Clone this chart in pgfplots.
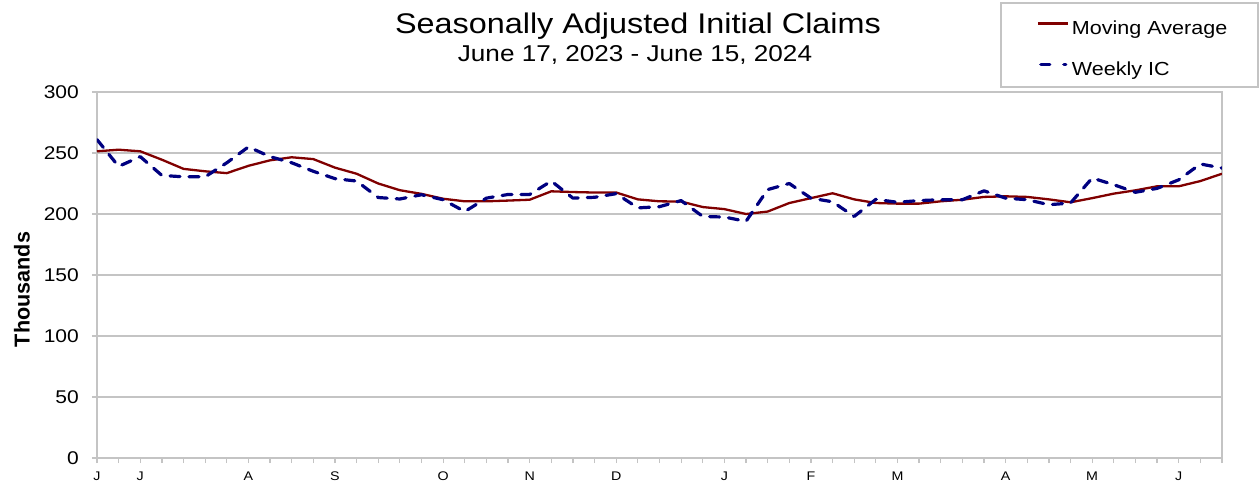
\documentclass[border=0pt]{standalone}
\usepackage{fontspec}
\setmainfont{Liberation Sans}[FakeStretch=1.14]
\newfontfamily\plainsans{Liberation Sans}
\usepackage{pgfplots}
\pgfplotsset{compat=1.18}
\definecolor{maline}{HTML}{800000}
\definecolor{icline}{HTML}{000080}
\definecolor{gridgray}{HTML}{C4C4C4}
\pgfplotsset{
    ic legend/.style={legend image code/.code={\path (0pt,0pt);
        \draw[##1, dash pattern=on 9pt off 14pt] (3pt,6pt) -- (28pt,6pt);}},
}

% week index 0 = June 17, 2023 ... 52 = June 15, 2024 (values in thousands)
\pgfplotstableread{
i ma ic
0 251.4 261
1 252.7 239
2 251.4 247
3 244.5 231.6
4 237 230.5
5 235 230.5
6 233.5 242
7 239.5 255
8 244 247
9 246.5 242
10 245 235
11 238 229
12 233 227
13 225 213.5
14 219.5 212.3
15 216.5 215.8
16 212.5 211.7
17 210.4 202
18 210.4 213
19 211 216
20 211.7 216
21 218.6 227
22 218 213
23 217.6 213.7
24 217.6 216.7
25 212 205
26 210.4 206
27 210.2 211
28 205.7 198
29 204 197.5
30 200 194
31 202 220
32 209 225
33 213 213
34 217 210
35 212 198
36 209 212
37 208.5 209.6
38 208.5 211
39 210.4 211.7
40 211.7 211.7
41 214 219
42 214.5 213
43 214 211.7
44 212 207.6
45 209.6 209
46 213 229.5
47 216.7 224
48 219.4 217.8
49 222.7 221
50 222.7 228
51 227 241
52 233 237.7
}\claims

\begin{document}
\begin{tikzpicture}
\path[use as bounding box] (-97pt,-25pt) rectangle (1163pt,458pt);
\begin{axis}[
    scale only axis,
    width=1125pt, height=366pt,
    xmin=0, xmax=52, ymin=0, ymax=300,
    xtick={0,...,52},
    xticklabels={J,,J,,,,,A,,,,S,,,,,O,,,,N,,,,D,,,,,J,,,,F,,,,M,,,,,A,,,,M,,,,J,,},
    ytick={0,50,...,300},
    ymajorgrids,
    grid style={gridgray, line width=1.5pt},
    axis line style={gridgray, line width=1.5pt},
    tick align=outside,
    xtick pos=bottom, ytick pos=left,
    major tick length=5pt,
    tick style={gridgray, line width=1.2pt},
    /pgf/number format/assume math mode=true,
    yticklabel style={font=\fontsize{18.4}{20}\selectfont, inner sep=0pt, xshift=-13pt},
    xticklabel style={font=\fontsize{12.5}{14}\selectfont, inner sep=0pt, yshift=-9pt},
    legend cell align=left,
    legend image code/.code={\path (0pt,0pt); \draw[#1] (0pt,6pt) -- (30pt,6pt);},
    legend style={at={(0.8347,1.193)}, anchor=north west, draw=none, fill=none,
        inner sep=0pt, row sep=25pt, column sep=3pt,
        font=\fontsize{18.9}{21}\selectfont,
        nodes={inner sep=0pt, text height=12.5pt, text depth=3.5pt}},
]
\addplot[maline, line width=2.3pt, line join=round] table[x=i, y=ma] {\claims};
\addlegendentry{Moving Average}
\addplot[icline, line width=3.2pt, line cap=round, line join=round,
    dash pattern=on 10pt off 9pt, ic legend] table[x=i, y=ic] {\claims};
\addlegendentry{Weekly IC}
\end{axis}
\draw[gridgray, line width=1.3pt] (904pt,371pt) rectangle (1161pt,455pt);
\node[anchor=base, font=\fontsize{28.4}{31}\selectfont] at (541pt,424pt) {Seasonally Adjusted Initial Claims};
\node[anchor=base, font=\fontsize{22.9}{25}\selectfont] at (538pt,396.5pt) {June 17, 2023 - June 15, 2024};
\node[rotate=90, font=\plainsans\bfseries\fontsize{21.6}{24}\selectfont] at (-75pt,168.5pt) {Thousands};
\end{tikzpicture}
\end{document}
